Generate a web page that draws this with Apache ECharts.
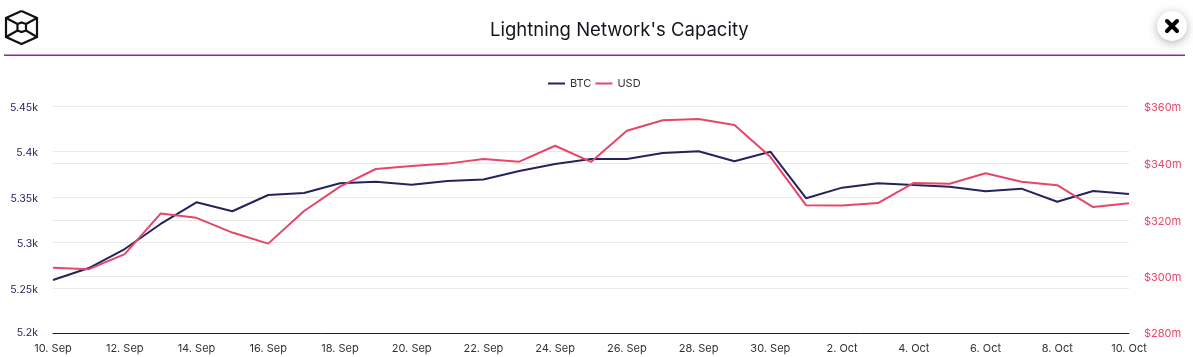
<!DOCTYPE html>
<html>
<head>
<meta charset="utf-8">
<title>Lightning Network's Capacity</title>
<style>
  html, body { margin: 0; padding: 0; background: #fff; }
  #chart { width: 1193px; height: 357px; }
</style>
<script src="https://cdn.jsdelivr.net/npm/echarts@6/dist/echarts.min.js"></script>
</head>
<body>
<div id="chart"></div>
<script>
const days = [
  '10. Sep', '11. Sep', '12. Sep', '13. Sep', '14. Sep', '15. Sep', '16. Sep', '17. Sep',
  '18. Sep', '19. Sep', '20. Sep', '21. Sep', '22. Sep', '23. Sep', '24. Sep', '25. Sep',
  '26. Sep', '27. Sep', '28. Sep', '29. Sep', '30. Sep', '1. Oct', '2. Oct', '3. Oct',
  '4. Oct', '5. Oct', '6. Oct', '7. Oct', '8. Oct', '9. Oct', '10. Oct',
];
// thousands of BTC
const btc = [
  5.2587, 5.2719, 5.2928, 5.3204, 5.3443, 5.3344, 5.3523, 5.3545,
  5.3652, 5.367, 5.3637, 5.3677, 5.3694, 5.3787, 5.3865, 5.392,
  5.392, 5.3986, 5.4004, 5.3894, 5.4, 5.3487, 5.3604, 5.3652,
  5.3633, 5.3615, 5.3564, 5.3593, 5.3449, 5.3567, 5.3534,
];
// millions of USD
const usd = [
  303.1, 302.6, 307.9, 322.2, 320.7, 315.5, 311.6, 323.1,
  331.7, 337.9, 339, 339.8, 341.4, 340.5, 346.1, 340.4,
  351.4, 355.1, 355.5, 353.4, 342.2, 325.1, 325, 325.9,
  333, 332.7, 336.4, 333.4, 332.2, 324.5, 325.8,
];

const navy = '#26235c';
const pink = '#e5466a';
const fontName = 'Inter, "Open Sans", sans-serif';

const chart = echarts.init(document.getElementById('chart'));

// header decoration: logo, rule and close button
const logoStyle = { fill: 'none', stroke: '#111', lineWidth: 2.2, lineJoin: 'miter' };
const logoLine = (points) => ({ type: 'polyline', shape: { points }, style: logoStyle, silent: true });

// tick labels sit a little under their grid line, except the bottom one
const tickRich = { up: { padding: [3, 0, 0, 0] }, base: {} };

chart.setOption({
  animation: false,
  title: {
    text: "Lightning Network's Capacity",
    left: 485,
    top: 16,
    textStyle: { fontFamily: fontName, fontSize: 18.5, fontWeight: 400, color: '#14161f' },
  },
  legend: {
    top: 73,
    left: 543,
    itemWidth: 17,
    itemHeight: 2,
    itemGap: 4,
    icon: 'rect',
    textStyle: { fontFamily: fontName, fontSize: 11, color: '#333' },
  },
  grid: { left: 53, right: 64, top: 106.3, bottom: 23.7 },
  xAxis: {
    type: 'category',
    data: days,
    boundaryGap: false,
    axisLine: { lineStyle: { color: '#222', width: 1 } },
    axisTick: { show: false },
    axisLabel: { interval: 1, margin: 10, fontFamily: fontName, fontSize: 11, color: '#333' },
  },
  yAxis: [
    {
      type: 'value',
      min: 5.2,
      max: 5.45,
      interval: 0.05,
      axisLine: { show: false },
      axisTick: { show: false },
      splitLine: { lineStyle: { color: '#e9e9ec', width: 1 } },
      axisLabel: {
        margin: 15,
        fontFamily: fontName,
        fontSize: 10.5,
        color: navy,
        rich: tickRich,
        formatter: (v) => (v === 5.2 ? '{base|' : '{up|') + v + 'k}',
      },
    },
    {
      type: 'value',
      min: 280,
      max: 360,
      interval: 20,
      position: 'right',
      axisLine: { show: false },
      axisTick: { show: false },
      splitLine: { lineStyle: { color: '#e9e9ec', width: 1 } },
      axisLabel: {
        margin: 15,
        fontFamily: fontName,
        fontSize: 11,
        color: pink,
        rich: tickRich,
        formatter: (v) => (v === 280 ? '{base|$' : '{up|$') + v + 'm}',
      },
    },
  ],
  series: [
    {
      name: 'BTC',
      type: 'line',
      data: btc,
      yAxisIndex: 0,
      showSymbol: false,
      lineStyle: { color: navy, width: 2 },
      itemStyle: { color: navy },
    },
    {
      name: 'USD',
      type: 'line',
      data: usd,
      yAxisIndex: 1,
      showSymbol: false,
      lineStyle: { color: pink, width: 2 },
      itemStyle: { color: pink },
    },
  ],
  graphic: [
    { type: 'line', shape: { x1: 4, y1: 55.3, x2: 1185, y2: 55.3 }, style: { stroke: '#9a1fb0', lineWidth: 1.5 }, silent: true },
    logoLine([[21.5, 11], [37, 18], [37, 37], [21.5, 44], [6, 37], [6, 18], [21.5, 11]]),
    logoLine([[17.5, 24], [21.5, 22.5], [26, 24], [26, 30.5], [21.5, 32], [17.5, 30.5], [17.5, 24]]),
    logoLine([[6, 18], [17.5, 24]]),
    logoLine([[37, 18], [26, 24]]),
    logoLine([[37, 37], [26, 30.5]]),
    logoLine([[6, 37], [17.5, 30.5]]),
    {
      type: 'circle',
      shape: { cx: 1172, cy: 26, r: 15 },
      style: { fill: '#fff', shadowBlur: 10, shadowColor: 'rgba(0,0,0,0.3)', shadowOffsetY: 2 },
      silent: true,
    },
    { type: 'line', shape: { x1: 1167, y1: 21, x2: 1177, y2: 31 }, style: { stroke: '#000', lineWidth: 4, lineCap: 'round' }, silent: true },
    { type: 'line', shape: { x1: 1177, y1: 21, x2: 1167, y2: 31 }, style: { stroke: '#000', lineWidth: 4, lineCap: 'round' }, silent: true },
  ],
});
</script>
</body>
</html>
